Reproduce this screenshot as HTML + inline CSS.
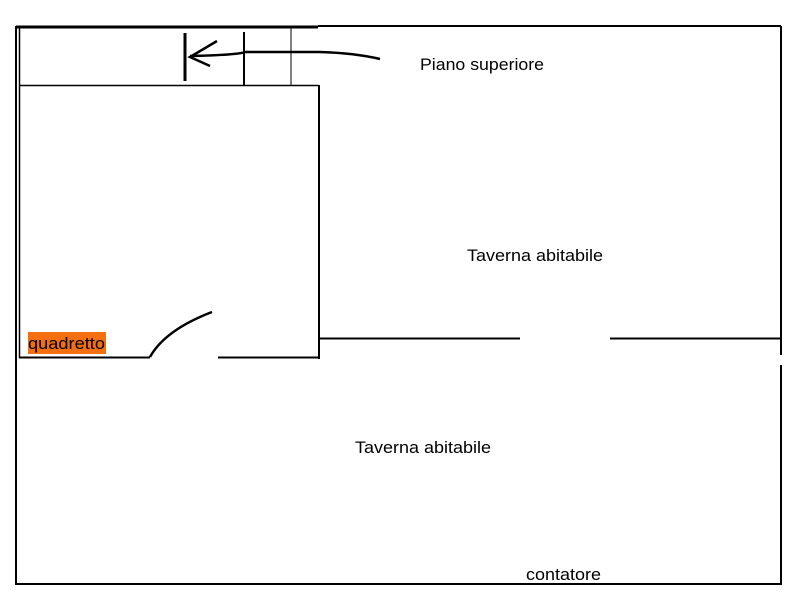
<!DOCTYPE html>
<html><head><style>
body{margin:0;background:#fff;width:800px;height:600px;overflow:hidden}
svg{display:block}
text{font-family:"Liberation Sans",sans-serif;font-size:16.5px;fill:#000}
</style></head><body>
<svg width="800" height="600" viewBox="0 0 800 600">
<g stroke="#000" fill="none" stroke-linecap="butt">
<line x1="16" y1="27" x2="318" y2="27" stroke-width="3"/>
<line x1="318" y1="26" x2="781" y2="26" stroke-width="2"/>
<line x1="16" y1="26" x2="16" y2="585" stroke-width="2"/>
<line x1="19.5" y1="27" x2="19.5" y2="358" stroke-width="1.5"/>
<line x1="781" y1="26" x2="781" y2="355" stroke-width="2"/>
<line x1="781" y1="365" x2="781" y2="585" stroke-width="2"/>
<line x1="16" y1="584" x2="782" y2="584" stroke-width="2"/>
<line x1="19" y1="85.5" x2="319" y2="85.5" stroke-width="1.5"/>
<line x1="319" y1="85" x2="319" y2="359" stroke-width="2"/>
<line x1="19" y1="357.5" x2="150" y2="357.5" stroke-width="2"/>
<line x1="218" y1="357.5" x2="320" y2="357.5" stroke-width="2"/>
<line x1="319" y1="338.5" x2="520" y2="338.5" stroke-width="2"/>
<line x1="610" y1="338.5" x2="781" y2="338.5" stroke-width="2"/>
<path d="M150 357 Q165 330 212 312" stroke-width="2.5"/>
<line x1="244" y1="32" x2="244" y2="86" stroke-width="2"/>
<line x1="291" y1="27" x2="291" y2="86" stroke-width="1"/>
<line x1="185" y1="33" x2="185" y2="81" stroke-width="3"/>
<path d="M380 59 Q355 53 320 52 L245 52 Q238 55 190 56" stroke-width="2.5"/>
<path d="M217 41 L190 57 L210 66" stroke-width="2.5"/>
</g>
<rect x="28" y="332" width="78" height="22" fill="#f36f0f"/>
<text x="28" y="349" textLength="77" lengthAdjust="spacingAndGlyphs">quadretto</text>
<text x="420" y="70" textLength="124" lengthAdjust="spacingAndGlyphs">Piano superiore</text>
<text x="467" y="261" textLength="136" lengthAdjust="spacingAndGlyphs">Taverna abitabile</text>
<text x="355" y="453" textLength="136" lengthAdjust="spacingAndGlyphs">Taverna abitabile</text>
<text x="526" y="580" textLength="75" lengthAdjust="spacingAndGlyphs">contatore</text>
</svg>
</body></html>
